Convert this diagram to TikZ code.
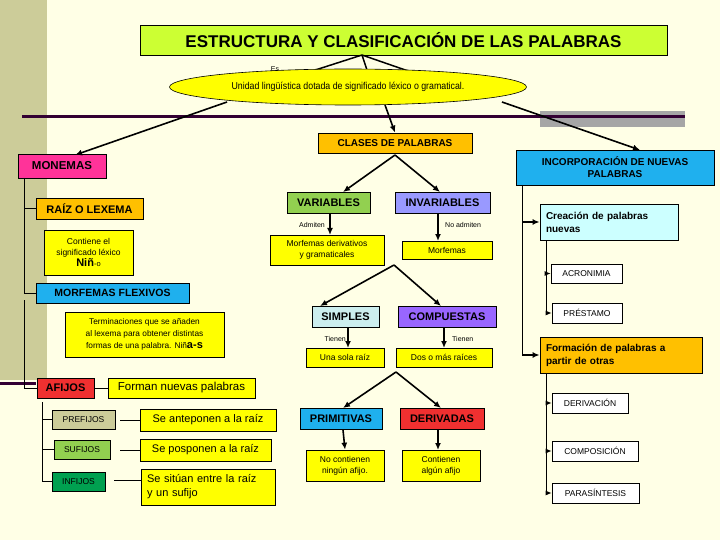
\documentclass[tikz,border=0pt]{standalone}
\usepackage{fontspec}
\setmainfont{Liberation Sans}
\usetikzlibrary{shapes.geometric,arrows.meta}
\definecolor{bg}{HTML}{FFFFE6}
\definecolor{olive}{HTML}{CCCC99}
\definecolor{lime}{HTML}{CCFF33}
\definecolor{org}{HTML}{FFC000}
\definecolor{pink}{HTML}{FF3399}
\definecolor{sky}{HTML}{1FB0EE}
\definecolor{yel}{HTML}{FFFF00}
\definecolor{grn}{HTML}{92D050}
\definecolor{lav}{HTML}{9999FF}
\definecolor{vio}{HTML}{9966FF}
\definecolor{pcy}{HTML}{CCEEEE}
\definecolor{rd}{HTML}{F03030}
\definecolor{dgrn}{HTML}{00A050}
\definecolor{cyn}{HTML}{CCFFFF}
\definecolor{purp}{HTML}{330033}
\tikzset{
 b/.style={draw=black,line width=0.8pt,inner sep=0pt,align=center,font=\fontsize{11}{12}\selectfont\bfseries},
 t/.style={draw=black,line width=0.6pt,inner sep=0pt,align=center,fill=yel,font=\fontsize{8.5}{11}\selectfont},
 w/.style={draw=black,line width=0.6pt,inner sep=0pt,fill=white,font=\fontsize{8.5}{10}\selectfont},
 sz/.style 2 args={minimum width=#1pt,minimum height=#2pt},
 ar/.style={line width=1.6pt,-{Latex[length=7pt,width=6pt]}},
 sar/.style={line width=1pt,-{Latex[length=6pt,width=5pt]}},
 ln/.style={line width=1pt},
 lab/.style={font=\fontsize{7}{8}\selectfont,inner sep=1pt}
}
\begin{document}
\begin{tikzpicture}[x=1pt,y=-1pt]
\fill[bg] (0,0) rectangle (720,540);
\useasboundingbox (0,0) rectangle (720,540);
\fill[olive] (0,0) rectangle (47,380);
\fill[gray!70] (540,111) rectangle (685,127);
\draw[purp,line width=3pt] (22,117) -- (685,117);
\draw[purp,line width=3pt] (0,383) -- (36,383);

\node[b,fill=lime,sz={527}{30},font=\fontsize{17}{18}\selectfont\bfseries] (title) at (403.5,40) {ESTRUCTURA Y CLASIFICACIÓN DE LAS PALABRAS};
\coordinate (tb) at (362,55);
\node[lab] (es) at (275,69) {Es};
\coordinate (e1) at (306,73); \coordinate (e2) at (368,73); \coordinate (e3) at (414,73);
\draw[line width=1.5pt] (tb)--(e1) (tb)--(e2) (tb)--(e3);
\coordinate (m0) at (227,102); \coordinate (c0) at (385,105); \coordinate (i0) at (502,102);
\node[b,fill=org,sz={154}{20},font=\fontsize{10}{11}\selectfont\bfseries] (clases) at (395,143) {CLASES DE PALABRAS};
\node[b,fill=pink,sz={88}{24},font=\fontsize{11.5}{12}\selectfont\bfseries] (mon) at (62,166) {MONEMAS};
\node[b,fill=sky,sz={198}{35},font=\fontsize{10}{12}\selectfont\bfseries] (inc) at (615,167.5) {INCORPORACIÓN DE NUEVAS\\PALABRAS};
\draw[ar] (m0) -- (75,155);
\draw[ar] (c0) -- (clases.north);
\draw[ar] (i0) -- (640,150);
\node[ellipse,draw=black,line width=0.6pt,fill=yel,minimum width=357pt,minimum height=36pt,inner sep=0pt,font=\fontsize{10}{11}\selectfont] (ell) at (348,87) {\scalebox{0.88}[1]{Unidad lingüística dotada de significado léxico o gramatical.}};

% left tree
\node[b,fill=org,sz={107}{21}] (raiz) at (89.5,208.5) {RAÍZ O LEXEMA};
\node[t,sz={89}{45}] (cont) at (88.5,252.5) {Contiene el\\significado léxico\\{\fontsize{11}{12}\selectfont\bfseries Niñ}{\fontsize{7.5}{8}\selectfont -o}};
\node[b,fill=sky,sz={153}{20},font=\fontsize{10.5}{11}\selectfont\bfseries] (mf) at (112.5,293) {MORFEMAS FLEXIVOS};
\node[t,sz={159}{45},font=\fontsize{8.3}{12}\selectfont] (term) at (144.5,334.5) {Terminaciones que se añaden\\al lexema para obtener distintas\\formas de una palabra. Niñ{\fontsize{11}{11}\selectfont\bfseries a-s}};
\node[b,fill=rd,sz={57}{20}] (af) at (65.5,388) {AFIJOS};
\node[t,sz={147}{20},font=\fontsize{11.5}{12}\selectfont] (form) at (181.5,388) {Forman nuevas palabras};
\node[b,fill=olive,sz={63}{19},font=\fontsize{8.5}{9}\selectfont] (pre) at (83.5,419.5) {PREFIJOS};
\node[t,sz={136}{22},font=\fontsize{11}{12}\selectfont] (pred) at (208,420) {Se anteponen a la raíz};
\node[b,fill=grn,sz={56}{19},font=\fontsize{8.5}{9}\selectfont] (suf) at (82,449.5) {SUFIJOS};
\node[t,sz={131}{22},font=\fontsize{11}{12}\selectfont] (sufd) at (205.5,450) {Se posponen a la raíz};
\node[b,fill=dgrn,sz={53}{19},font=\fontsize{8.5}{9}\selectfont] (inf) at (78.5,481.5) {INFIJOS};
\node[t,sz={134}{36},font=\fontsize{11}{14}\selectfont,align=left,text width=122pt,inner xsep=6pt] (infd) at (208,487) {Se sitúan entre la raíz\\y un sufijo};
\coordinate (lt) at (24,178);
\draw[ln] (lt) |- (raiz.west);
\draw[ln] (24,200) |- (mf.west);
\draw[ln] (24,300) |- (af.west);
\draw[ln] (af.east) -- (form.west);
\coordinate (at) at (42,402);
\draw[ln] (at) |- (pre.west);
\draw[ln] (at) |- (suf.west);
\draw[ln] (at) |- (inf.west);
\draw[ln] (120,420) -- (pred.west);
\draw[ln] (120,450) -- (sufd.west);
\draw[ln] (114,480) -- (infd.west |- 0,480);

% middle
\node[b,fill=grn,sz={83}{21}] (var) at (328.5,202.5) {VARIABLES};
\node[b,fill=lav,sz={95}{21}] (inv) at (442.5,202.5) {INVARIABLES};
\coordinate (cb) at (395,155);
\draw[ar] (cb) -- (343,192);
\draw[ar] (cb) -- (440,192);
\node[t,sz={114}{30}] (md) at (327,250) {Morfemas derivativos\\y gramaticales};
\node[t,sz={90}{18}] (mo) at (447,250) {Morfemas};
\draw[ar] (330,214) -- (330,235);
\node[lab,anchor=east] (adm) at (326,225) {Admiten};
\draw[ar] (438,214) -- (438,241);
\node[lab,anchor=west] (nadm) at (444,225) {No admiten};
\node[b,fill=pcy,sz={67}{21}] (sim) at (345.5,316.5) {SIMPLES};
\node[b,fill=vio,sz={98}{21}] (com) at (447,316.5) {COMPUESTAS};
\coordinate (mb) at (394,265);
\draw[ar] (mb) -- (320,306);
\draw[ar] (mb) -- (441,306);
\node[t,sz={78}{19}] (una) at (345,357.5) {Una sola raíz};
\node[t,sz={96}{19}] (dos) at (444,357.5) {Dos o más raíces};
\draw[ar] (348,328) -- (348,348);
\draw[ar] (444,328) -- (444,348);
\node[lab,anchor=east] (ti1) at (347,339) {Tienen};
\node[lab,anchor=west] (ti2) at (451,339) {Tienen};
\node[b,fill=sky,sz={82}{21}] (pri) at (341,418.5) {PRIMITIVAS};
\node[b,fill=rd,sz={84}{21}] (der) at (442,418.5) {DERIVADAS};
\coordinate (sb) at (396,372);
\draw[ar] (sb) -- (343,408);
\draw[ar] (sb) -- (441,408);
\node[t,sz={78}{31}] (noc) at (345,465.5) {No contienen\\ningún afijo.};
\node[t,sz={78}{31}] (con) at (441,465.5) {Contienen\\algún afijo};
\draw[ar] (343,430) -- (noc.north);
\draw[ar] (438,430) -- (438,450);

% right
\node[b,fill=cyn,sz={138}{36},align=left,text width=126pt,inner xsep=6pt,font=\fontsize{10}{13}\selectfont\bfseries] (cre) at (609,222) {Creación de palabras\\nuevas};
\node[w,sz={71}{19}] (acr) at (586.5,273.5) {ACRONIMIA};
\node[w,sz={70}{20}] (pres) at (587,313) {PRÉSTAMO};
\node[b,fill=org,sz={162}{36},align=left,text width=150pt,inner xsep=6pt,font=\fontsize{10}{13}\selectfont\bfseries] (for) at (621,355) {Formación de palabras a\\partir de otras};
\node[w,sz={76}{20}] (dvc) at (590,403) {DERIVACIÓN};
\node[w,sz={86}{20}] (cmp) at (595,451) {COMPOSICIÓN};
\node[w,sz={87}{20}] (par) at (595.5,493) {PARASÍNTESIS};
\coordinate (rt) at (522,185);
\draw[ln] (rt) -- (522,355);
\draw[ar] (522,222) -- (cre.west);
\draw[ar] (522,355) -- (for.west);
\coordinate (ct) at (546,240);
\draw[ln] (ct) -- (546,313);
\draw[sar] (546,273.5) -- (acr.west);
\draw[sar] (546,313) -- (pres.west);
\coordinate (ft) at (546,373);
\draw[ln] (ft) -- (546,493);
\draw[sar] (546,403) -- (dvc.west);
\draw[sar] (546,451) -- (cmp.west);
\draw[sar] (546,493) -- (par.west);
\end{tikzpicture}
\end{document}
